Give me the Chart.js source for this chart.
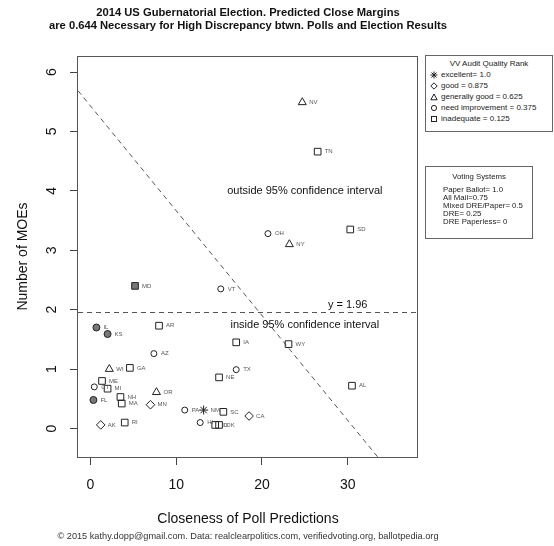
<!DOCTYPE html>
<html>
<head>
<meta charset="utf-8">
<script src="https://cdn.jsdelivr.net/npm/chart.js@4.4.1/dist/chart.umd.min.js"></script>
<style>
  body { margin: 0; background: #fff; font-family: "Liberation Sans", Arial, sans-serif; }
  #wrap { position: relative; width: 554px; height: 546px; overflow: hidden; }
  #chart { position: absolute; left: 0; top: 0; }
  .line { position: absolute; white-space: nowrap; }
  .title { left: 0; width: 496px; text-align: center; font-weight: bold; font-size: 11.2px; line-height: 13px; color: #111; }
  .box { position: absolute; border: 1px solid #666; background: #fff; font-size: 8px; color: #222; }
  .box .line { line-height: 10px; }
  .box .head { left: 0; right: 0; text-align: center; }
  .box svg { position: absolute; left: 4px; }
  .vs .line { font-size: 7.8px; }
  .foot { left: 0; width: 496px; text-align: center; font-size: 9.2px; line-height: 11px; color: #333; }
</style>
</head>
<body>
<div id="wrap">
  <canvas id="chart" width="554" height="546"></canvas>

  <div class="line title" style="top:6px">2014 US Gubernatorial Election. Predicted Close Margins</div>
  <div class="line title" style="top:19px">are 0.644 Necessary for High Discrepancy btwn. Polls and Election Results</div>

  <!-- audit rank legend -->
  <div class="box" style="left:425px; top:55px; width:126px; height:75px">
    <div class="line head" style="top:3px">VV Audit Quality Rank</div>
    <svg style="top:15px" width="8" height="8" viewBox="0 0 8 8"><path d="M4 0.5V7.5M0.5 4H7.5M1.5 1.5L6.5 6.5M6.5 1.5L1.5 6.5" stroke="#222" fill="none"/></svg>
    <div class="line" style="left:15px; top:14px">excellent= 1.0</div>
    <svg style="top:26px" width="8" height="8" viewBox="0 0 8 8"><path d="M4 0.8L7.2 4L4 7.2L0.8 4Z" stroke="#222" fill="none"/></svg>
    <div class="line" style="left:15px; top:25px">good = 0.875</div>
    <svg style="top:37px" width="8" height="8" viewBox="0 0 8 8"><path d="M4 1L7.2 6.8H0.8Z" stroke="#222" fill="none"/></svg>
    <div class="line" style="left:15px; top:36px">generally good = 0.625</div>
    <svg style="top:48px" width="8" height="8" viewBox="0 0 8 8"><circle cx="4" cy="4" r="2.6" stroke="#222" fill="none"/></svg>
    <div class="line" style="left:15px; top:47px">need improvement = 0.375</div>
    <svg style="top:59px" width="8" height="8" viewBox="0 0 8 8"><rect x="1.5" y="1.5" width="5" height="5" stroke="#222" fill="none"/></svg>
    <div class="line" style="left:15px; top:58px">inadequate = 0.125</div>
  </div>

  <!-- voting systems legend -->
  <div class="box vs" style="left:425px; top:166px; width:106px; height:71px">
    <div class="line head" style="top:5px">Voting Systems</div>
    <div class="line" style="left:17px; top:18px">Paper Ballot= 1.0</div>
    <div class="line" style="left:17px; top:26px">All Mail=0.75</div>
    <div class="line" style="left:17px; top:34px">Mixed DRE/Paper= 0.5</div>
    <div class="line" style="left:17px; top:42px">DRE= 0.25</div>
    <div class="line" style="left:17px; top:50px">DRE Paperless= 0</div>
  </div>

  <div class="line foot" style="top:531px">© 2015 kathy.dopp@gmail.com. Data: realclearpolitics.com, verifiedvoting.org, ballotpedia.org</div>
</div>

<script>
// states and their readings (x = closeness of poll predictions, y = number of MOEs)
const states = ["NV", "TN", "SD", "OH", "NY", "MD", "VT", "IL", "KS", "AR", "AZ", "IA",
  "WY", "TX", "NE", "WI", "GA", "ME", "CT", "MI", "FL", "NH", "MA", "OR", "MN", "AK",
  "RI", "PA", "NM", "SC", "CA", "HI", "ID", "OK", "AL"];
const closeness = [24.7, 26.5, 30.3, 20.7, 23.2, 5.2, 15.2, 0.7, 2.0, 8.0, 7.4, 17.0,
  23.1, 17.0, 15.0, 2.2, 4.6, 1.35, 0.45, 2.0, 0.35, 3.5, 3.65, 7.7, 7.0, 1.2,
  4.0, 11.0, 13.2, 15.5, 18.5, 12.8, 14.55, 15.0, 30.5];
const moes = [5.49, 4.66, 3.35, 3.28, 3.10, 2.40, 2.35, 1.70, 1.59, 1.73, 1.26, 1.45,
  1.42, 0.99, 0.86, 1.00, 1.02, 0.80, 0.70, 0.67, 0.48, 0.53, 0.42, 0.61, 0.40, 0.06,
  0.10, 0.31, 0.31, 0.28, 0.21, 0.10, 0.06, 0.06, 0.72];
// marker per state (audit rank symbol); "*" = filled with asterisk on top
const marker = ["triangle", "square", "square", "circle", "triangle", "square*", "circle",
  "circle*", "circle*", "square", "circle", "square", "square", "circle", "square",
  "triangle", "square", "square", "circle", "square", "circle*", "square", "square",
  "triangle", "diamond", "diamond", "square", "circle", "star", "square", "diamond",
  "circle", "square", "square", "square"];

const xTicks = [0, 10, 20, 30];
const yTicks = [0, 1, 2, 3, 4, 5, 6];
const xRange = [-1.45, 38.2];
const yRange = [-0.48, 6.27];

// reference lines
const zCut = 1.96;
const cutIntercept = 5.43;
const cutSlope = -0.1764;

const ink = "#222";
const font = '"Liberation Sans", Arial, sans-serif';

function pointsFor(kinds) {
  return states
    .map((s, i) => ({ x: closeness[i], y: moes[i], state: s, kind: marker[i] }))
    .filter((p) => kinds.includes(p.kind));
}

function markerSet(kinds, style, radius, fill) {
  return {
    data: pointsFor(kinds),
    pointStyle: style,
    pointRadius: radius,
    pointHoverRadius: radius,
    pointBorderWidth: 1,
    pointBorderColor: ink,
    pointBackgroundColor: fill || "rgba(0,0,0,0)",
    showLine: false,
  };
}

// dashed guides, plot box and notes
const guides = {
  id: "guides",
  beforeDatasetsDraw(chart) {
    const { ctx, chartArea: a, scales: { x, y } } = chart;
    ctx.save();
    ctx.beginPath();
    ctx.rect(a.left, a.top, a.right - a.left, a.bottom - a.top);
    ctx.clip();
    ctx.strokeStyle = "#555";
    ctx.lineWidth = 1;
    ctx.setLineDash([5, 4]);
    const yz = Math.round(y.getPixelForValue(zCut)) + 0.5;
    ctx.beginPath();
    ctx.moveTo(a.left, yz);
    ctx.lineTo(a.right, yz);
    ctx.stroke();
    ctx.beginPath();
    ctx.moveTo(x.getPixelForValue(xRange[0]), y.getPixelForValue(cutIntercept + cutSlope * xRange[0]));
    ctx.lineTo(x.getPixelForValue(xRange[1]), y.getPixelForValue(cutIntercept + cutSlope * xRange[1]));
    ctx.stroke();
    ctx.restore();

    ctx.save();
    ctx.font = "11px " + font;
    ctx.fillStyle = "#111";
    ctx.textAlign = "center";
    ctx.textBaseline = "middle";
    ctx.fillText("outside 95% confidence interval", x.getPixelForValue(25), y.getPixelForValue(4));
    ctx.fillText("inside 95% confidence interval", x.getPixelForValue(25), y.getPixelForValue(1.75));
    ctx.fillText("y = 1.96", x.getPixelForValue(30), y.getPixelForValue(2.08));
    ctx.restore();
  },
  afterDatasetsDraw(chart) {
    const { ctx, chartArea: a, scales: { x, y } } = chart;
    ctx.save();
    ctx.font = "6px " + font;
    ctx.fillStyle = "#555";
    ctx.textBaseline = "middle";
    states.forEach((s, i) => {
      ctx.fillText(s, x.getPixelForValue(closeness[i]) + 7, y.getPixelForValue(moes[i]));
    });
    ctx.restore();

    ctx.save();
    ctx.strokeStyle = "#555";
    ctx.lineWidth = 1;
    ctx.strokeRect(Math.round(a.left) - 0.5, Math.round(a.top) + 0.5,
      Math.round(a.right - a.left), Math.round(a.bottom - a.top));
    ctx.restore();
  },
};

new Chart(document.getElementById("chart"), {
  type: "scatter",
  data: {
    datasets: [
      markerSet(["square"], "rect", 4.7),
      markerSet(["circle"], "circle", 3),
      markerSet(["triangle"], "triangle", 4.6),
      markerSet(["diamond"], "rectRot", 4.3),
      markerSet(["circle*"], "circle", 3.5, "#777"),
      markerSet(["square*"], "rect", 4.7, "#777"),
      markerSet(["star"], "star", 4.5),
      markerSet(["circle*", "square*"], "star", 3),
    ],
  },
  options: {
    responsive: false,
    devicePixelRatio: 1,
    animation: false,
    layout: { padding: { top: 56, right: 136, bottom: 0, left: 0 } },
    plugins: { legend: { display: false }, tooltip: { enabled: false } },
    scales: {
      x: {
        type: "linear",
        min: xRange[0],
        max: xRange[1],
        afterBuildTicks: (s) => { s.ticks = xTicks.map((v) => ({ value: v })); },
        afterFit: (s) => { s.height = 89; },
        grid: { drawOnChartArea: false, drawTicks: true, tickLength: 8, color: "#444" },
        border: { display: false },
        ticks: { font: { family: font, size: 14 }, color: "#111", padding: 11.6, maxRotation: 0 },
        title: {
          display: true,
          text: "Closeness of Poll Predictions",
          font: { family: font, size: 14 },
          color: "#111",
          padding: { top: 0, bottom: 18.6 },
        },
      },
      y: {
        type: "linear",
        min: yRange[0],
        max: yRange[1],
        afterBuildTicks: (s) => { s.ticks = yTicks.map((v) => ({ value: v })); },
        afterFit: (s) => { s.width = 78; },
        grid: { drawOnChartArea: false, drawTicks: true, tickLength: 8, color: "#444" },
        border: { display: false },
        ticks: {
          font: { family: font, size: 14 },
          color: "#111",
          padding: 14,
          minRotation: 90,
          maxRotation: 90,
          crossAlign: "center",
        },
        title: {
          display: true,
          text: "Number of MOEs",
          font: { family: font, size: 14 },
          color: "#111",
          padding: { top: 14.6, bottom: 0 },
        },
      },
    },
  },
  plugins: [guides],
});
</script>
</body>
</html>
